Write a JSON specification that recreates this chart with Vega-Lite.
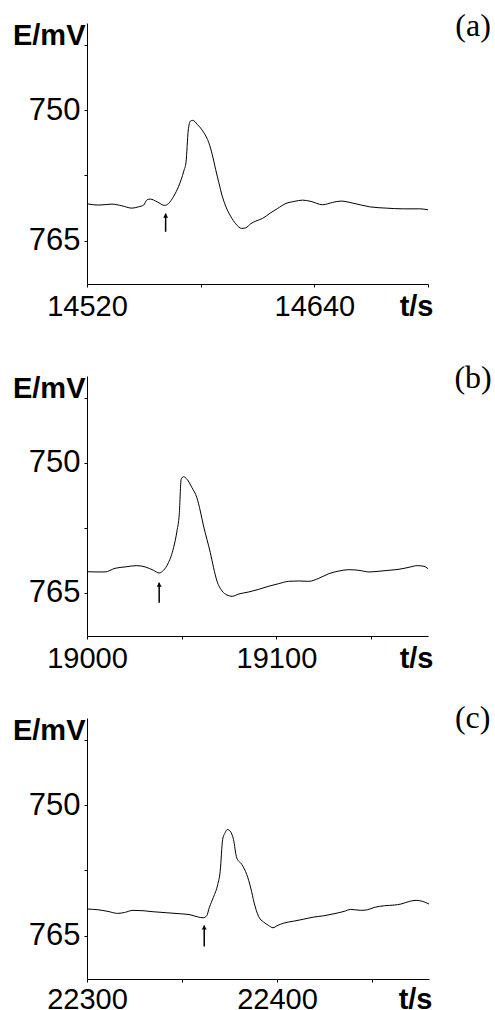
{
  "$schema": "https://vega.github.io/schema/vega-lite/v6.json",
  "background": "white",
  "padding": {"left": 12, "top": 10, "right": 0, "bottom": 0},
  "config": {
    "view": {"stroke": null},
    "axis": {"grid": false, "domainColor": "black", "domainWidth": 1, "tickColor": "black", "tickSize": 3, "tickWidth": 1, "labelFont": "Liberation Sans", "labelFontSize": 29, "labelColor": "black", "labelOverlap": false, "labelFlush": false, "titleFont": "Liberation Sans", "titleFontSize": 29, "titleFontWeight": "bold", "titleColor": "black"},
    "axisX": {"labelPadding": 5},
    "axisY": {"labelPadding": 4, "labelFontSize": 31, "titleAngle": 0, "titleAlign": "right", "titleBaseline": "alphabetic", "titleX": -2},
    "text": {"font": "Liberation Serif", "fontSize": 32, "fontWeight": "normal", "color": "black", "align": "center", "baseline": "middle"}
  },
  "datasets": {
    "a": [
      {"t": 14520, "E": 760.78}, {"t": 14526.0, "E": 760.93}, {"t": 14533.1, "E": 760.82}, {"t": 14538.4, "E": 761.01}, {"t": 14543.7, "E": 761.28}, {"t": 14547.2, "E": 761.13}, {"t": 14549.9, "E": 760.93}, {"t": 14551.7, "E": 760.32}, {"t": 14553.4, "E": 760.24}, {"t": 14557.0, "E": 760.55}, {"t": 14561.0, "E": 760.97}, {"t": 14563.1, "E": 760.74}, {"t": 14565.8, "E": 759.90}, {"t": 14568.4, "E": 758.75}, {"t": 14571.1, "E": 757.02}, {"t": 14572.3, "E": 755.95}, {"t": 14573.4, "E": 752.42}, {"t": 14574.6, "E": 751.27}, {"t": 14575.8, "E": 751.19}, {"t": 14578.2, "E": 751.65}, {"t": 14581.7, "E": 752.61}, {"t": 14584.3, "E": 753.76}, {"t": 14586.1, "E": 755.10}, {"t": 14587.9, "E": 756.83}, {"t": 14589.6, "E": 758.36}, {"t": 14591.4, "E": 759.90}, {"t": 14593.2, "E": 761.05}, {"t": 14595.8, "E": 762.20}, {"t": 14598.5, "E": 763.08}, {"t": 14601.7, "E": 763.61}, {"t": 14603.8, "E": 763.54}, {"t": 14606.4, "E": 763.08}, {"t": 14609.1, "E": 762.77}, {"t": 14612.6, "E": 762.47}, {"t": 14617.0, "E": 761.81}, {"t": 14620.6, "E": 761.32}, {"t": 14625.0, "E": 760.74}, {"t": 14629.4, "E": 760.51}, {"t": 14633.8, "E": 760.36}, {"t": 14638.2, "E": 760.51}, {"t": 14644.4, "E": 760.89}, {"t": 14649.7, "E": 760.62}, {"t": 14654.1, "E": 760.47}, {"t": 14660.3, "E": 760.70}, {"t": 14669.2, "E": 761.13}, {"t": 14678.0, "E": 761.28}, {"t": 14686.9, "E": 761.36}, {"t": 14695.7, "E": 761.36}, {"t": 14700, "E": 761.47}
    ],
    "b": [
      {"t": 19000, "E": 762.58}, {"t": 19004.2, "E": 762.61}, {"t": 19009.5, "E": 762.61}, {"t": 19014.8, "E": 762.19}, {"t": 19020.1, "E": 762.03}, {"t": 19026.3, "E": 761.88}, {"t": 19030.7, "E": 762.03}, {"t": 19035.1, "E": 762.42}, {"t": 19038.1, "E": 762.73}, {"t": 19040.4, "E": 762.42}, {"t": 19043.0, "E": 761.54}, {"t": 19045.7, "E": 759.81}, {"t": 19047.5, "E": 757.88}, {"t": 19048.7, "E": 755.96}, {"t": 19049.7, "E": 751.92}, {"t": 19051.0, "E": 751.62}, {"t": 19052.8, "E": 751.92}, {"t": 19055.4, "E": 752.88}, {"t": 19058.0, "E": 754.04}, {"t": 19059.8, "E": 755.57}, {"t": 19061.5, "E": 757.30}, {"t": 19063.3, "E": 758.84}, {"t": 19065.1, "E": 760.38}, {"t": 19066.8, "E": 762.11}, {"t": 19068.6, "E": 763.65}, {"t": 19071.3, "E": 764.80}, {"t": 19073.9, "E": 765.27}, {"t": 19076.6, "E": 765.42}, {"t": 19080.1, "E": 765.15}, {"t": 19085.4, "E": 764.92}, {"t": 19090.7, "E": 764.61}, {"t": 19095.9, "E": 764.26}, {"t": 19101.2, "E": 763.96}, {"t": 19106.5, "E": 763.69}, {"t": 19111.8, "E": 763.65}, {"t": 19117.1, "E": 763.69}, {"t": 19122.4, "E": 763.34}, {"t": 19127.7, "E": 762.81}, {"t": 19133.0, "E": 762.50}, {"t": 19138.2, "E": 762.35}, {"t": 19143.5, "E": 762.42}, {"t": 19148.8, "E": 762.61}, {"t": 19154.1, "E": 762.53}, {"t": 19159.4, "E": 762.42}, {"t": 19164.7, "E": 762.30}, {"t": 19170.0, "E": 762.07}, {"t": 19174.4, "E": 761.88}, {"t": 19177.9, "E": 761.96}, {"t": 19180, "E": 762.23}
    ],
    "c": [
      {"t": 22300, "E": 761.96}, {"t": 22305.7, "E": 762.04}, {"t": 22311.0, "E": 762.23}, {"t": 22316.2, "E": 762.46}, {"t": 22319.8, "E": 762.35}, {"t": 22324.2, "E": 762.11}, {"t": 22329.5, "E": 762.15}, {"t": 22334.8, "E": 762.27}, {"t": 22341.8, "E": 762.38}, {"t": 22348.9, "E": 762.50}, {"t": 22354.2, "E": 762.61}, {"t": 22358.6, "E": 762.88}, {"t": 22361.2, "E": 762.96}, {"t": 22363.0, "E": 762.73}, {"t": 22364.4, "E": 761.77}, {"t": 22366.5, "E": 760.62}, {"t": 22368.8, "E": 759.15}, {"t": 22370.1, "E": 757.62}, {"t": 22371.4, "E": 753.96}, {"t": 22372.7, "E": 753.19}, {"t": 22373.9, "E": 752.81}, {"t": 22375.3, "E": 753.00}, {"t": 22377.1, "E": 753.96}, {"t": 22378.8, "E": 756.08}, {"t": 22381.5, "E": 756.84}, {"t": 22384.1, "E": 758.00}, {"t": 22386.2, "E": 759.54}, {"t": 22388.0, "E": 761.27}, {"t": 22390.3, "E": 762.81}, {"t": 22393.0, "E": 763.46}, {"t": 22395.6, "E": 763.85}, {"t": 22397.9, "E": 764.11}, {"t": 22400, "E": 763.88}, {"t": 22403.5, "E": 763.58}, {"t": 22408.8, "E": 763.35}, {"t": 22414.1, "E": 763.12}, {"t": 22419.4, "E": 762.88}, {"t": 22424.7, "E": 762.73}, {"t": 22430.0, "E": 762.50}, {"t": 22435.3, "E": 762.23}, {"t": 22438.8, "E": 762.00}, {"t": 22444.1, "E": 762.11}, {"t": 22447.6, "E": 762.04}, {"t": 22451.2, "E": 761.77}, {"t": 22456.5, "E": 761.58}, {"t": 22461.7, "E": 761.50}, {"t": 22465.3, "E": 761.38}, {"t": 22469.7, "E": 761.08}, {"t": 22473.2, "E": 760.96}, {"t": 22476.7, "E": 761.08}, {"t": 22480, "E": 761.38}
    ],
    "arrows": [
      {"p": "a", "t": 14561.5, "tip": 761.9, "tail": 764.0},
      {"p": "b", "t": 19038.1, "tip": 763.85, "tail": 766.15},
      {"p": "c", "t": 22361.7, "tip": 763.85, "tail": 766.27}
    ],
    "tags": [
      {"p": "a", "label": "(a)", "t": 14723.8, "E": 740.35},
      {"p": "b", "label": "(b)", "t": 19203.8, "E": 740.25},
      {"p": "c", "label": "(c)", "t": 22503.0, "E": 740.05}
    ]
  },
  "bounds": "flush",
  "spacing": 92,
  "vconcat": [
    {
      "width": 341, "height": 261,
      "layer": [
        {"data": {"name": "a"}, "mark": {"type": "line", "color": "black", "strokeWidth": 1, "interpolate": "monotone"},
         "encoding": {
           "x": {"field": "t", "type": "quantitative", "scale": {"domain": [14520, 14700], "nice": false, "zero": false},
                 "axis": {"title": null, "values": [14520, 14580, 14640, 14700],
                          "labelExpr": "datum.value == 14700 ? 't/s' : (datum.value == 14580 ? '' : '' + datum.value)",
                          "labelFontWeight": {"condition": {"test": "datum.value == 14700", "value": "bold"}, "value": "normal"},
                          "labelAlign": {"condition": {"test": "datum.value == 14700", "value": "right"}, "value": "center"},
                          "labelOffset": {"condition": {"test": "datum.value == 14700", "value": 5}, "value": 0}}},
           "y": {"field": "E", "type": "quantitative", "scale": {"domain": [740, 770], "reverse": true, "nice": false, "zero": false},
                 "axis": {"title": "E/mV", "titleY": 21.7, "values": [742.5, 750, 757.5, 765],
                          "labelExpr": "datum.value == 750 ? '750' : (datum.value == 765 ? '765' : '')"}}
         }},
        {"data": {"name": "arrows"}, "transform": [{"filter": "datum.p == 'a'"}],
         "mark": {"type": "rule", "color": "black", "strokeWidth": 1.5},
         "encoding": {"x": {"field": "t", "type": "quantitative"}, "y": {"field": "tip", "type": "quantitative"}, "y2": {"field": "tail"}}},
        {"data": {"name": "arrows"}, "transform": [{"filter": "datum.p == 'a'"}],
         "mark": {"type": "point", "shape": "triangle-up", "filled": true, "color": "black", "opacity": 1, "size": 24, "yOffset": 2},
         "encoding": {"x": {"field": "t", "type": "quantitative"}, "y": {"field": "tip", "type": "quantitative"}}},
        {"data": {"name": "tags"}, "transform": [{"filter": "datum.p == 'a'"}],
         "mark": {"type": "text"},
         "encoding": {"x": {"field": "t", "type": "quantitative"}, "y": {"field": "E", "type": "quantitative"}, "text": {"field": "label"}}}
      ]
    },
    {
      "bounds": "flush",
      "spacing": 82,
      "vconcat": [
        {
          "width": 341, "height": 260,
          "layer": [
            {"data": {"name": "b"}, "mark": {"type": "line", "color": "black", "strokeWidth": 1, "interpolate": "monotone"},
             "encoding": {
               "x": {"field": "t", "type": "quantitative", "scale": {"domain": [19000, 19180], "nice": false, "zero": false},
                     "axis": {"title": null, "values": [19000, 19050, 19100, 19150, 19180],
                              "labelExpr": "datum.value == 19180 ? 't/s' : (datum.value % 100 == 0 ? '' + datum.value : '')",
                              "labelFontWeight": {"condition": {"test": "datum.value == 19180", "value": "bold"}, "value": "normal"},
                              "labelAlign": {"condition": {"test": "datum.value == 19180", "value": "right"}, "value": "center"},
                              "labelOffset": {"condition": {"test": "datum.value == 19180", "value": 5}, "value": 0},
                              "tickOpacity": {"condition": {"test": "datum.value == 19180", "value": 0}, "value": 1}}},
               "y": {"field": "E", "type": "quantitative", "scale": {"domain": [740, 770], "reverse": true, "nice": false, "zero": false},
                     "axis": {"title": "E/mV", "titleY": 21.7, "values": [742.5, 750, 757.5, 765],
                              "labelExpr": "datum.value == 750 ? '750' : (datum.value == 765 ? '765' : '')"}}
             }},
            {"data": {"name": "arrows"}, "transform": [{"filter": "datum.p == 'b'"}],
             "mark": {"type": "rule", "color": "black", "strokeWidth": 1.5},
             "encoding": {"x": {"field": "t", "type": "quantitative"}, "y": {"field": "tip", "type": "quantitative"}, "y2": {"field": "tail"}}},
            {"data": {"name": "arrows"}, "transform": [{"filter": "datum.p == 'b'"}],
             "mark": {"type": "point", "shape": "triangle-up", "filled": true, "color": "black", "opacity": 1, "size": 24, "yOffset": 2},
             "encoding": {"x": {"field": "t", "type": "quantitative"}, "y": {"field": "tip", "type": "quantitative"}}},
            {"data": {"name": "tags"}, "transform": [{"filter": "datum.p == 'b'"}],
             "mark": {"type": "text"},
             "encoding": {"x": {"field": "t", "type": "quantitative"}, "y": {"field": "E", "type": "quantitative"}, "text": {"field": "label"}}}
          ]
        },
        {
          "width": 342, "height": 261,
          "layer": [
            {"data": {"name": "c"}, "mark": {"type": "line", "color": "black", "strokeWidth": 1, "interpolate": "monotone"},
             "encoding": {
               "x": {"field": "t", "type": "quantitative", "scale": {"domain": [22300, 22480], "nice": false, "zero": false},
                     "axis": {"title": null, "labelPadding": 3, "values": [22300, 22350, 22400, 22450, 22480],
                              "labelExpr": "datum.value == 22480 ? 't/s' : (datum.value % 100 == 0 ? '' + datum.value : '')",
                              "labelFontWeight": {"condition": {"test": "datum.value == 22480", "value": "bold"}, "value": "normal"},
                              "labelAlign": {"condition": {"test": "datum.value == 22480", "value": "right"}, "value": "center"},
                              "labelOffset": {"condition": {"test": "datum.value == 22480", "value": 3}, "value": 0},
                              "tickOpacity": {"condition": {"test": "datum.value == 22480", "value": 0}, "value": 1}}},
               "y": {"field": "E", "type": "quantitative", "scale": {"domain": [740, 770], "reverse": true, "nice": false, "zero": false},
                     "axis": {"title": "E/mV", "titleY": 21.7, "values": [742.5, 750, 757.5, 765],
                              "labelExpr": "datum.value == 750 ? '750' : (datum.value == 765 ? '765' : '')"}}
             }},
            {"data": {"name": "arrows"}, "transform": [{"filter": "datum.p == 'c'"}],
             "mark": {"type": "rule", "color": "black", "strokeWidth": 1.5},
             "encoding": {"x": {"field": "t", "type": "quantitative"}, "y": {"field": "tip", "type": "quantitative"}, "y2": {"field": "tail"}}},
            {"data": {"name": "arrows"}, "transform": [{"filter": "datum.p == 'c'"}],
             "mark": {"type": "point", "shape": "triangle-up", "filled": true, "color": "black", "opacity": 1, "size": 24, "yOffset": 2},
             "encoding": {"x": {"field": "t", "type": "quantitative"}, "y": {"field": "tip", "type": "quantitative"}}},
            {"data": {"name": "tags"}, "transform": [{"filter": "datum.p == 'c'"}],
             "mark": {"type": "text"},
             "encoding": {"x": {"field": "t", "type": "quantitative"}, "y": {"field": "E", "type": "quantitative"}, "text": {"field": "label"}}}
          ]
        }
      ]
    }
  ]
}
